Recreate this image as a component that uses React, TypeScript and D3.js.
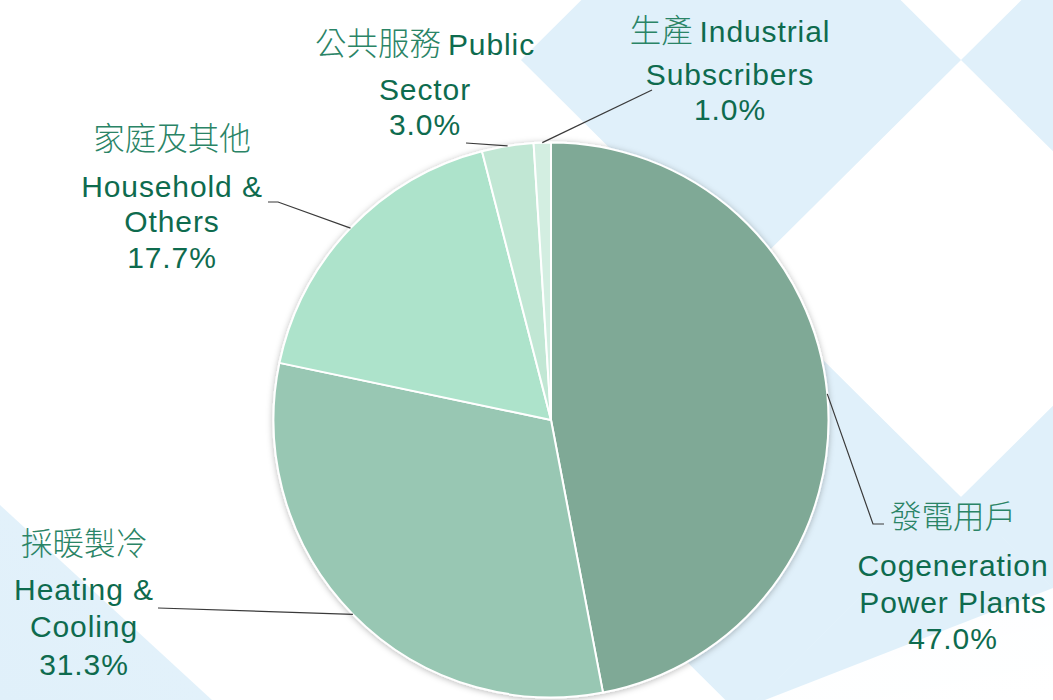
import React from "react";
import * as d3 from "d3";

const categoriesZh = ["發電用戶", "採暖製冷", "家庭及其他", "公共服務", "生產"];
const categoriesEn = [
  ["Cogeneration", "Power Plants"],
  ["Heating &", "Cooling"],
  ["Household &", "Others"],
  ["Public", "Sector"],
  ["Industrial", "Subscribers"],
];
const shares = [47.0, 31.3, 17.7, 3.0, 1.0];
const sliceColors = ["#7FA996", "#98C7B3", "#ADE3CB", "#C1E7D4", "#D3EEE1"];

const W = 1053;
const H = 700;
const CX = 551;
const CY = 420;
const R = 277.5;

const EN_FONT = "'Liberation Sans', Arial, sans-serif";
const ZH_FONT = "'Noto Sans CJK TC', 'Noto Sans CJK SC', sans-serif";
const TEXT_COLOR = "#0E6B4E";
const ZH_COLOR = "#2A8466";
const BLUE = "#E0F0FA";
const EN_SIZE = 30;
const EN_SPACING = 0.9;
const ZH_SIZE = 31.5;

// label layout: x center, baselines, and whether zh is inline with the first english line
const labelLayout = [
  { x: 953, zhY: 528, enY: [576, 613, 649], inline: false, leader: [[873, 524], [884, 524]] },
  { x: 84, zhY: 555, enY: [600, 637, 675], inline: false, leader: [[158, 608]] },
  { x: 172, zhY: 150, enY: [197, 232, 268], inline: false, leader: [[278, 202], [268, 202]] },
  { x: 425, zhY: 55, enY: [55, 100, 135], inline: true, leader: [[466, 143]] },
  { x: 730, zhY: 42, enY: [42, 85, 120], inline: true, leader: [[652, 90]] },
];

function diamond(cx: number, cy: number, hw: number, hh: number) {
  return `${cx},${cy - hh} ${cx + hw},${cy} ${cx},${cy + hh} ${cx - hw},${cy}`;
}

export default function App() {
  const pie = d3.pie<number>().sort(null).value((d) => d);
  const arcs = pie(shares);
  const arc = d3.arc<d3.PieArcDatum<number>>().innerRadius(0).outerRadius(R);
  const edgeArc = d3.arc<d3.PieArcDatum<number>>().innerRadius(R).outerRadius(R);

  const hw = 220;
  const hh = 218.5;
  const blueDiamonds = [
    [741, 60],
    [1181, 60],
    [741, 497],
    [1181, 497],
    [961, 715],
  ];

  const enProps = {
    fontFamily: EN_FONT,
    fontSize: EN_SIZE,
    fill: TEXT_COLOR,
    letterSpacing: EN_SPACING,
  };

  return (
    <div style={{ position: "absolute", left: 0, top: 0, width: W, height: H }}>
      <svg width={W} height={H} viewBox={`0 0 ${W} ${H}`} style={{ display: "block" }}>
        <defs>
          <filter id="shadow" x="-10%" y="-10%" width="120%" height="120%">
            <feDropShadow dx="0" dy="1" stdDeviation="3" floodColor="#000" floodOpacity="0.28" />
          </filter>
          <linearGradient id="fadeBR" x1="1" y1="1" x2="0.6" y2="0.2">
            <stop offset="0" stopColor="#fff" stopOpacity="1" />
            <stop offset="1" stopColor="#fff" stopOpacity="0.95" />
          </linearGradient>
          <linearGradient id="fadeBL" x1="0" y1="1" x2="1" y2="0">
            <stop offset="0" stopColor={BLUE} stopOpacity="1" />
            <stop offset="0.75" stopColor={BLUE} stopOpacity="0.9" />
            <stop offset="1" stopColor={BLUE} stopOpacity="0.3" />
          </linearGradient>
        </defs>
        <rect x={0} y={0} width={W} height={H} fill="#fff" />
        {blueDiamonds.map(([x, y], i) => (
          <polygon key={i} points={diamond(x, y, hw, hh)} fill={BLUE} />
        ))}
        <polygon points={`${W},588 ${W},${H} 765,${H}`} fill="url(#fadeBR)" />
        <polygon points={`0,505 212,${H} 0,${H}`} fill="url(#fadeBL)" />

        <g transform={`translate(${CX},${CY})`} filter="url(#shadow)">
          {arcs.map((a, i) => (
            <path key={i} d={arc(a) || ""} fill={sliceColors[i]} stroke="#fff" strokeWidth={2} strokeLinejoin="round" />
          ))}
        </g>

        {arcs.map((a, i) => {
          const [ex, ey] = edgeArc.centroid(a);
          const pts: [number, number][] = [[CX + ex, CY + ey], ...(labelLayout[i].leader as [number, number][])];
          return (
            <path key={"l" + i} d={d3.line()(pts) || ""} fill="none" stroke="#3a3a3a" strokeWidth={1.2} />
          );
        })}

        {labelLayout.map((L, i) => {
          const pct = shares[i].toFixed(1) + "%";
          const en = categoriesEn[i];
          return (
            <g key={"t" + i} textAnchor="middle">
              {L.inline ? (
                <text x={L.x} y={L.zhY}>
                  <tspan fontFamily={ZH_FONT} fontSize={ZH_SIZE} fill={ZH_COLOR} fontWeight={300}>
                    {categoriesZh[i] + " "}
                  </tspan>
                  <tspan {...enProps}>{en[0]}</tspan>
                </text>
              ) : (
                <>
                  <text x={L.x} y={L.zhY} fontFamily={ZH_FONT} fontSize={ZH_SIZE} fill={ZH_COLOR} fontWeight={300}>
                    {categoriesZh[i]}
                  </text>
                  <text x={L.x} y={L.enY[0]} {...enProps}>
                    {en[0]}
                  </text>
                </>
              )}
              <text x={L.x} y={L.enY[1]} {...enProps}>
                {en[1]}
              </text>
              <text x={L.x} y={L.enY[2]} {...enProps}>
                {pct}
              </text>
            </g>
          );
        })}
      </svg>
    </div>
  );
}
